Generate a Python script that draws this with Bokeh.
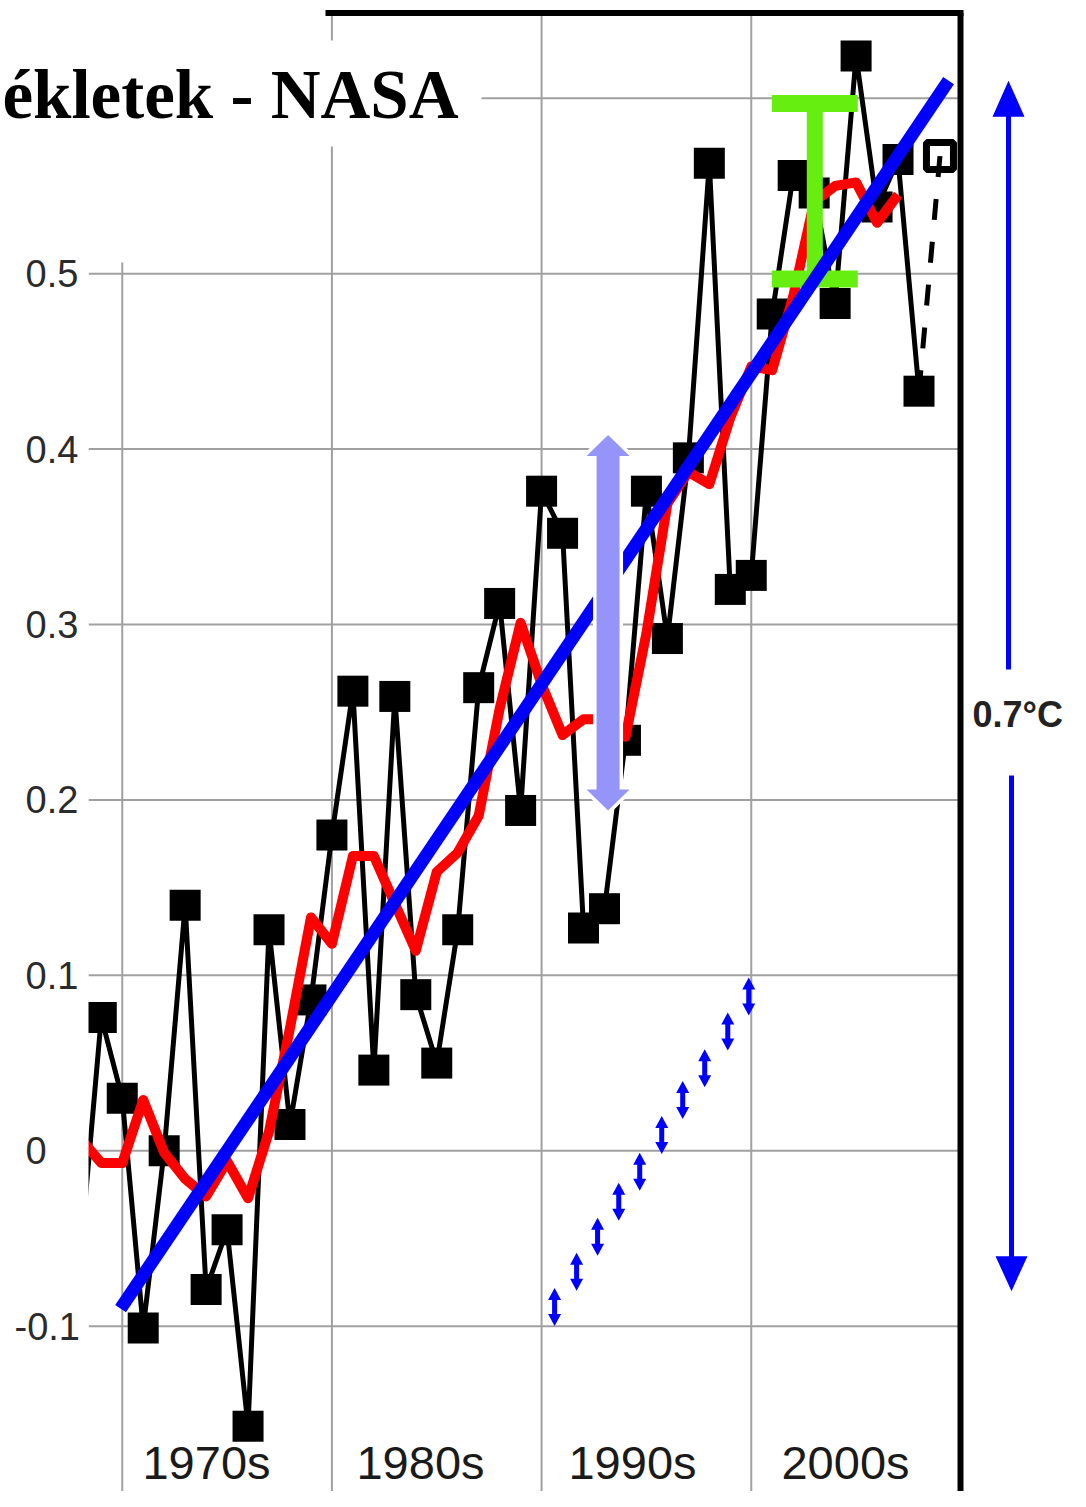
from bokeh.plotting import figure
from bokeh.models import Range1d
from bokeh.core.properties import value
from bokeh.embed import file_html
from bokeh.resources import INLINE

# ---------------- data ----------------
years = list(range(1968, 2009))
anomaly = [-0.060, 0.076, 0.030, -0.101, 0.000, 0.140, -0.079, -0.045, -0.157, 0.126,
           0.015, 0.086, 0.180, 0.262, 0.046, 0.259, 0.089, 0.050, 0.126, 0.264,
           0.312, 0.194, 0.376, 0.352, 0.127, 0.138, 0.234, 0.376, 0.292, 0.395,
           0.563, 0.320, 0.328, 0.477, 0.556, 0.546, 0.483, 0.624, 0.538, 0.565,
           0.433]
provisional_year = [2009]
provisional_value = [0.567]

ma_years = list(range(1968, 2008))
ma_values = [0.007, -0.007, -0.007, 0.029, -0.001, -0.016, -0.026, -0.006, -0.027, 0.011,
             0.070, 0.133, 0.118, 0.168, 0.168, 0.141, 0.114, 0.159, 0.170, 0.191,
             0.252, 0.301, 0.266, 0.237, 0.246, 0.246, 0.236, 0.295, 0.369, 0.387,
             0.380, 0.418, 0.447, 0.445, 0.487, 0.541, 0.550, 0.552, 0.529, 0.545]

trend_years = [1969.92, 2009.41]
trend_values = [-0.090, 0.610]

y_ticks = [-0.1, 0.0, 0.1, 0.2, 0.3, 0.4, 0.5]
y_tick_labels = ["-0.1", "0", "0.1", "0.2", "0.3", "0.4", "0.5"]
grid_values = [-0.2, -0.1, 0.0, 0.1, 0.2, 0.3, 0.4, 0.5, 0.6]
decade_lines = [1970, 1980, 1990, 2000]
decade_labels = ["1970s", "1980s", "1990s", "2000s"]
title_text = "ékletek - NASA"
rise_text = "0.7°C"

# annotation values
spread_year = 1993.17
spread_low, spread_high = 0.194, 0.408
bar_year = 2003.03
bar_low, bar_high = 0.497, 0.597
step_years = [1990.62, 1991.67, 1992.67, 1993.68, 1994.68, 1995.73, 1996.73, 1997.78, 1998.88, 1999.88]
step_values = [-0.089, -0.069, -0.049, -0.029, -0.012, 0.009, 0.029, 0.047, 0.068, 0.088]
rise_low, rise_high = -0.080, 0.610

# ---------------- layout / scale calibration ----------------
W, H = 1070, 1491
X1970_PX = 121.75
PX_PER_YEAR = 20.967
Y0_PX = 1150.3
PX_PER_UNIT = 1754.3

def xpx(px):
    return 1970 + (px - X1970_PX) / PX_PER_YEAR

def ypx(px):
    return (Y0_PX - px) / PX_PER_UNIT

def dx(px):
    return px / PX_PER_YEAR

def dy(px):
    return px / PX_PER_UNIT

x_start, x_end = xpx(0), xpx(W)
y_start, y_end = ypx(H), ypx(0)

p = figure(width=W, height=H, x_range=Range1d(x_start, x_end),
           y_range=Range1d(y_start, y_end), output_backend="svg",
           toolbar_location=None, x_axis_location=None, y_axis_location=None,
           min_border_left=0, min_border_right=0, min_border_top=0, min_border_bottom=0,
           outline_line_color=None, background_fill_color="white")
p.grid.visible = False

GRID = "#a0a0a0"
border_x = xpx(960)
border_top = ypx(12.5)
frame_left = xpx(88)

# grid lines
p.segment(x0=[frame_left] * len(grid_values), x1=[border_x] * len(grid_values),
          y0=grid_values, y1=grid_values, line_color=GRID, line_width=2)
vtop = [ypx(262) if d == 1970 else border_top for d in decade_lines]
p.segment(x0=decade_lines, x1=decade_lines, y0=[y_start - 0.05] * len(decade_lines),
          y1=vtop, line_color=GRID, line_width=2)

# thick black frame (top and right)
p.segment(x0=[xpx(325), border_x], x1=[xpx(963), border_x],
          y0=[border_top, border_top], y1=[border_top, y_start - 0.05],
          line_color="black", line_width=6)

# white title box
p.quad(left=[xpx(-5)], right=[xpx(481)], top=[ypx(40)], bottom=[ypx(146)],
       fill_color="white", line_color=None)

# helpers for arrow polygons
def double_arrow(xc, ylo, yhi, shaft, head_w, head_l):
    hw, sw, hl = dx(head_w / 2), dx(shaft / 2), dy(head_l)
    xs = [xc, xc + hw, xc + sw, xc + sw, xc + hw, xc, xc - hw, xc - sw, xc - sw, xc - hw]
    ys = [yhi, yhi - hl, yhi - hl, ylo + hl, ylo + hl, ylo, ylo + hl, ylo + hl, yhi - hl, yhi - hl]
    return xs, ys

def single_arrow(xc, ybase, ytip, shaft, head_w, head_l):
    s = 1 if ytip > ybase else -1
    yh = ytip - s * dy(head_l)
    hw, sw = dx(head_w / 2), dx(shaft / 2)
    xs = [xc - sw, xc - sw, xc - hw, xc, xc + hw, xc + sw, xc + sw]
    ys = [ybase, yh, yh, ytip, yh, yh, ybase]
    return xs, ys

# small blue step arrows
sx, sy = [], []
for yr, v in zip(step_years, step_values):
    a, b = double_arrow(yr, v - dy(19), v + dy(19), 5, 13, 12)
    sx.append(a)
    sy.append(b)
p.patches(xs=sx, ys=sy, fill_color="#0000ff", line_color=None)

# black annual series
p.line(years, anomaly, line_color="black", line_width=5, line_join="round")
p.scatter(years[1:], anomaly[1:], marker="square", size=31, fill_color="black", line_color=None)

# provisional year
p.line([provisional_year[0], years[-1]], [provisional_value[0], anomaly[-1]],
       line_color="black", line_width=5, line_dash="21 22")
p.scatter(provisional_year, provisional_value, marker="square", size=27,
          fill_color=None, line_color="black", line_width=7)

# red running mean
p.line(ma_years, ma_values, line_color="#ff0000", line_width=10, line_join="round")

# green I-bar
hb = dx(43)
p.segment(x0=[bar_year], x1=[bar_year], y0=[bar_low], y1=[bar_high],
          line_color="#66ee11", line_width=16)
p.segment(x0=[bar_year - hb, bar_year - hb], x1=[bar_year + hb, bar_year + hb],
          y0=[bar_low, bar_high], y1=[bar_low, bar_high], line_color="#66ee11", line_width=17)

# blue trend
p.line(trend_years, trend_values, line_color="#0000ff", line_width=13)

# lavender spread arrow with white halo
lx, ly = double_arrow(spread_year, spread_low, spread_high, 23, 43, 21)
p.patch(lx, ly, fill_color="white", line_color="white", line_width=7)
p.patch(lx, ly, fill_color="#9595f9", line_color=None)

# big blue 0.7°C arrow
ux, uy = single_arrow(xpx(1008), ypx(669), rise_high, 5, 32, 36)
bx, by = single_arrow(xpx(1011), ypx(775), rise_low, 5, 32, 35)
p.patches(xs=[ux, bx], ys=[uy, by], fill_color="#0000ff", line_color=None)
p.text(x=[xpx(972)], y=[ypx(714)], text=[rise_text], text_font=value("Liberation Sans"),
       text_font_style="bold", text_font_size="36px", text_color="#222222",
       text_align="left", text_baseline="middle")

# white left margin (series are cut at the plot's left edge)
p.quad(left=[xpx(-5)], right=[frame_left], top=[ypx(146)], bottom=[y_start - 0.05],
       fill_color="white", line_color=None)

# y tick labels
label_left_px = [14, 25, 25, 25, 25, 25, 25]
p.text(x=[xpx(v) for v in label_left_px], y=y_ticks, text=y_tick_labels,
       text_font=value("Liberation Sans"), text_font_size="38px", text_color="#2b2b2b",
       text_align="left", text_baseline="middle")

# decade labels
p.text(x=[xpx(206), xpx(420), xpx(632), xpx(845)], y=[ypx(1462)] * 4, text=decade_labels,
       text_font=value("Liberation Sans"), text_font_size="47px", text_color="#1a1a1a",
       text_align="center", text_baseline="middle")

# title
p.text(x=[xpx(458)], y=[ypx(94)], text=[title_text], text_align="right",
       text_baseline="middle", text_font=value("Liberation Serif"),
       text_font_style="bold", text_font_size="69px", text_color="black")

open("out.html", "w").write(file_html(p, INLINE))
